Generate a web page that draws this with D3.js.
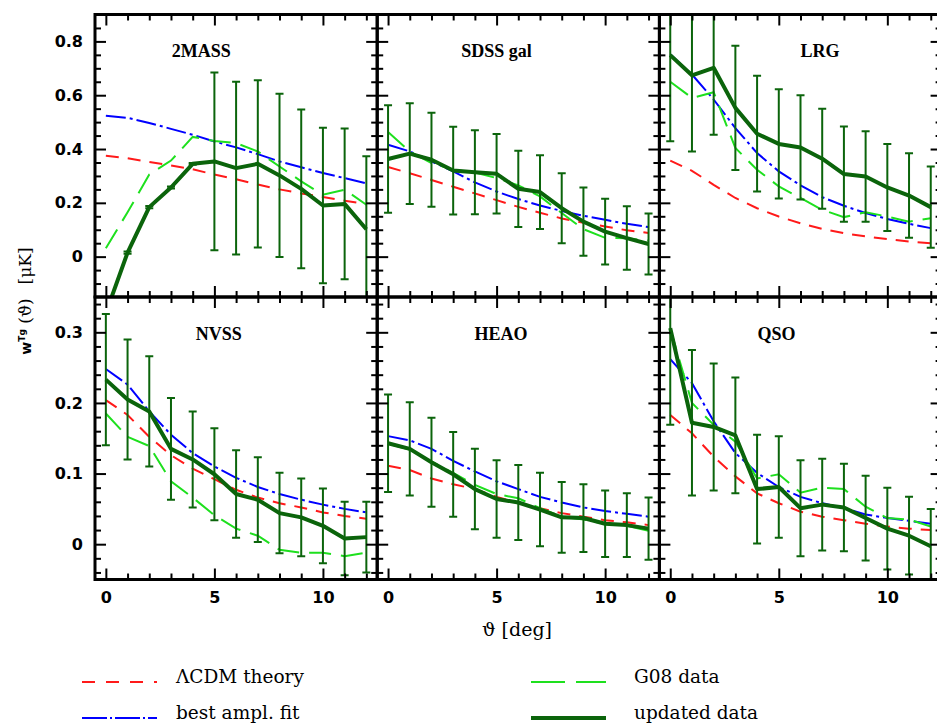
<!DOCTYPE html>
<html><head><meta charset="utf-8">
<script src="https://cdn.jsdelivr.net/npm/d3@7"></script>
<style>body{margin:0;background:#fff} svg{display:block}</style>
</head><body><svg id="c" width="937" height="724"></svg>
<script>
// ---------- data ----------
const theta = [0,1,2,3,4,5,6,7,8,9,10,11,12];
const panelNames = ["2MASS","SDSS gal","LRG","NVSS","HEAO","QSO"];
const labelTheta = [4.4, 5.0, 6.9, 5.2, 5.2, 4.9];

const lcdmTheory = [
  [0.375,0.366,0.352,0.339,0.325,0.305,0.288,0.268,0.250,0.235,0.222,0.208,0.195],
  [0.333,0.310,0.285,0.260,0.235,0.210,0.185,0.163,0.142,0.126,0.112,0.098,0.088],
  [0.357,0.319,0.267,0.218,0.180,0.149,0.124,0.103,0.087,0.075,0.065,0.056,0.050],
  [0.204,0.183,0.152,0.126,0.107,0.092,0.077,0.066,0.058,0.052,0.045,0.040,0.036],
  [0.111,0.105,0.093,0.085,0.078,0.067,0.059,0.051,0.044,0.039,0.034,0.031,0.027],
  [0.183,0.157,0.124,0.096,0.072,0.058,0.046,0.039,0.034,0.029,0.025,0.022,0.020]
];
const bestFit = [
  [0.524,0.516,0.497,0.475,0.453,0.428,0.406,0.381,0.354,0.332,0.311,0.292,0.272],
  [0.416,0.391,0.354,0.317,0.276,0.242,0.214,0.190,0.170,0.152,0.137,0.122,0.110],
  [0.752,0.677,0.584,0.478,0.385,0.317,0.265,0.221,0.189,0.162,0.140,0.122,0.106],
  [0.248,0.226,0.188,0.155,0.129,0.110,0.094,0.081,0.071,0.063,0.056,0.050,0.045],
  [0.153,0.147,0.135,0.118,0.103,0.089,0.078,0.067,0.059,0.052,0.047,0.043,0.039],
  [0.262,0.228,0.174,0.129,0.101,0.081,0.067,0.058,0.051,0.042,0.037,0.033,0.029]
];
const g08Data = [
  [0.031,0.165,0.305,0.357,0.445,0.430,0.422,0.391,0.335,0.280,0.230,0.249,0.193],
  [0.463,0.391,0.348,0.323,0.313,0.292,0.265,0.224,0.162,0.102,0.070,0.068,0.060],
  [0.650,0.590,0.611,0.404,0.323,0.261,0.218,0.174,0.147,0.165,0.149,0.130,0.143],
  [0.185,0.152,0.139,0.089,0.066,0.041,0.022,0.012,-0.008,-0.012,-0.012,-0.017,-0.012],
  [0.142,0.134,0.117,0.101,0.084,0.071,0.065,0.051,0.039,0.035,0.029,0.026,0.019],
  [0.305,0.200,0.169,0.145,0.093,0.099,0.073,0.080,0.078,0.053,0.037,0.035,0.025]
];
const updatedData = [
  [-0.21,0.015,0.184,0.257,0.345,0.354,0.329,0.345,0.302,0.252,0.190,0.196,0.102],
  [0.363,0.383,0.360,0.320,0.314,0.308,0.252,0.240,0.180,0.130,0.093,0.069,0.047],
  [0.749,0.674,0.702,0.553,0.457,0.419,0.406,0.364,0.307,0.298,0.257,0.227,0.184],
  [0.233,0.205,0.188,0.135,0.120,0.099,0.071,0.063,0.044,0.038,0.026,0.008,0.010],
  [0.143,0.135,0.116,0.099,0.078,0.064,0.059,0.049,0.038,0.037,0.029,0.027,0.022],
  [0.306,0.172,0.166,0.154,0.078,0.081,0.051,0.056,0.052,0.037,0.022,0.012,-0.003]
];
const updatedErr = [
  [0.004,0.004,0.004,0.004,0.003,0.330,0.321,0.311,0.303,0.295,0.289,0.280,0.271],
  [0.200,0.187,0.175,0.163,0.156,0.148,0.142,0.137,0.130,0.127,0.122,0.118,0.113],
  [0.320,0.283,0.249,0.231,0.215,0.203,0.194,0.186,0.177,0.168,0.162,0.157,0.151],
  [0.093,0.085,0.078,0.072,0.068,0.065,0.062,0.060,0.057,0.055,0.053,0.052,0.050],
  [0.069,0.066,0.063,0.060,0.057,0.055,0.053,0.052,0.050,0.048,0.047,0.045,0.044],
  [0.137,0.103,0.090,0.082,0.077,0.072,0.068,0.065,0.062,0.060,0.058,0.055,0.053]
];
const xMajorTicks = [0,5,10];
const xMinorTicks = [1,2,3,4,6,7,8,9,11,12];
const yDomains = [[-0.15,0.9],[-0.05,0.35]];
const yMajorTicks = [[0,0.2,0.4,0.6,0.8],[0,0.1,0.2,0.3]];
const yMinorTicks = [
  [-0.1,-0.05,0.05,0.1,0.15,0.25,0.3,0.35,0.45,0.5,0.55,0.65,0.7,0.75,0.85],
  [-0.04,-0.02,0.02,0.04,0.06,0.08,0.12,0.14,0.16,0.18,0.22,0.24,0.26,0.28,0.32,0.34]
];
const legendLabels = ["\u039BCDM theory","best ampl. fit","G08 data","updated data"];

// ---------- styles ----------
const C_RED = "#ff1a1a", C_BLUE = "#0000ff", C_LG = "#1ee01e", C_DG = "#0b640b";
const svg = d3.select("#c");
const plotLeft = 95, plotTop = 14.5, pw = 282.2, ph = 282.5;
const MAJ = 11, MIN = 6;

const defs = svg.append("defs");

panelNames.forEach((name, i) => {
  const col = i % 3, row = Math.floor(i / 3);
  const x0 = plotLeft + col * pw, y0 = plotTop + row * ph;
  const x = d3.scaleLinear().domain([-0.5, 12.5]).range([x0, x0 + pw]);
  const y = d3.scaleLinear().domain(yDomains[row]).range([y0 + ph, y0]);

  defs.append("clipPath").attr("id", "clip" + i)
    .append("rect").attr("x", x0).attr("y", y0).attr("width", pw).attr("height", ph);

  const g = svg.append("g").attr("clip-path", "url(#clip" + i + ")");
  const line = d3.line().x((d, k) => x(theta[k])).y(d => y(d));

  g.append("path").attr("d", line(lcdmTheory[i])).attr("fill", "none")
    .attr("stroke", C_RED).attr("stroke-width", 2).attr("stroke-dasharray", "13,9");
  g.append("path").attr("d", line(bestFit[i])).attr("fill", "none")
    .attr("stroke", C_BLUE).attr("stroke-width", 2).attr("stroke-dasharray", "20,4,3,4");
  g.append("path").attr("d", line(g08Data[i])).attr("fill", "none")
    .attr("stroke", C_LG).attr("stroke-width", 2).attr("stroke-dasharray", "22,10");

  const eb = g.append("g").attr("stroke", C_DG).attr("stroke-width", 2);
  theta.forEach((t, k) => {
    const v = updatedData[i][k], e = updatedErr[i][k];
    const xp = x(t);
    eb.append("line").attr("x1", xp).attr("x2", xp).attr("y1", y(v - e)).attr("y2", y(v + e));
    eb.append("line").attr("x1", xp - 4).attr("x2", xp + 4).attr("y1", y(v - e)).attr("y2", y(v - e));
    eb.append("line").attr("x1", xp - 4).attr("x2", xp + 4).attr("y1", y(v + e)).attr("y2", y(v + e));
  });
  g.append("path").attr("d", line(updatedData[i])).attr("fill", "none")
    .attr("stroke", C_DG).attr("stroke-width", 4).attr("stroke-linejoin", "round");

  // ticks (inward on all four sides)
  const tk = svg.append("g");
  function ax(fn, scale, vals, len, tr) {
    const a = tk.append("g").attr("transform", tr)
      .call(fn(scale).tickValues(vals).tickSize(-len).tickFormat(""));
    a.select(".domain").remove();
    a.selectAll("line").attr("stroke", "#000").attr("stroke-width", 2);
  }
  ax(d3.axisBottom, x, xMajorTicks, MAJ, `translate(0,${y0 + ph})`);
  ax(d3.axisBottom, x, xMinorTicks, MIN, `translate(0,${y0 + ph})`);
  ax(d3.axisTop, x, xMajorTicks, MAJ, `translate(0,${y0})`);
  ax(d3.axisTop, x, xMinorTicks, MIN, `translate(0,${y0})`);
  ax(d3.axisLeft, y, yMajorTicks[row], MAJ, `translate(${x0},0)`);
  ax(d3.axisLeft, y, yMinorTicks[row], MIN, `translate(${x0},0)`);
  ax(d3.axisRight, y, yMajorTicks[row], MAJ, `translate(${x0 + pw},0)`);
  ax(d3.axisRight, y, yMinorTicks[row], MIN, `translate(${x0 + pw},0)`);

  // frame
  svg.append("rect").attr("x", x0).attr("y", y0).attr("width", pw).attr("height", ph)
    .attr("fill", "none").attr("stroke", "#000").attr("stroke-width", 3);

  // tick labels
  if (col === 0) {
    const a = svg.append("g").attr("transform", `translate(${x0},0)`)
      .call(d3.axisLeft(y).tickValues(yMajorTicks[row]).tickSize(0).tickPadding(12)
        .tickFormat(d => d === 0 ? "0" : d3.format(".1f")(d)));
    a.select(".domain").remove();
    a.selectAll("text").attr("font-family", "DejaVu Sans").attr("font-weight", "bold")
      .attr("font-size", 16).attr("fill", "#000");
  }
  if (row === 1) {
    const a = svg.append("g").attr("transform", `translate(0,${y0 + ph})`)
      .call(d3.axisBottom(x).tickValues(xMajorTicks).tickSize(0).tickPadding(12).tickFormat(d3.format("d")));
    a.select(".domain").remove();
    a.selectAll("text").attr("font-family", "DejaVu Sans").attr("font-weight", "bold")
      .attr("font-size", 16).attr("fill", "#000");
  }

  // panel name
  svg.append("text").attr("x", x(labelTheta[i])).attr("y", y0 + 42.5)
    .attr("text-anchor", "middle").attr("font-family", "Liberation Serif")
    .attr("font-weight", "bold").attr("font-size", 18).text(name);
});

// axis titles
svg.append("text").attr("x", 517).attr("y", 636).attr("text-anchor", "middle")
  .attr("font-family", "DejaVu Serif").attr("font-size", 19).text("\u03D1 [deg]");

const yt = svg.append("text").attr("transform", "translate(31,301) rotate(-90)")
  .attr("text-anchor", "middle").attr("font-family", "DejaVu Serif").attr("font-size", 17);
yt.append("tspan").attr("font-family", "DejaVu Sans").attr("font-weight", "bold").attr("font-size", 14).text("w");
yt.append("tspan").attr("font-family", "DejaVu Sans").attr("font-weight", "bold").attr("font-size", 9).attr("dy", -6).text("Tg");
yt.append("tspan").attr("dy", 6).text(" (\u03D1)\u2002 [\u03BCK]");

// legend
const legendX = [82, 82, 531, 531];
const legendY = [682, 718, 682, 718];
const legendStyles = [
  {c: C_RED, w: 2, d: "13,11"},
  {c: C_BLUE, w: 2, d: "25,3,2,3"},
  {c: C_LG, w: 2, d: "34,11"},
  {c: C_DG, w: 4, d: null}
];
legendLabels.forEach((lab, k) => {
  const s = legendStyles[k];
  const ln = svg.append("line").attr("x1", legendX[k]).attr("x2", legendX[k] + 75)
    .attr("y1", legendY[k]).attr("y2", legendY[k])
    .attr("stroke", s.c).attr("stroke-width", s.w);
  if (s.d) ln.attr("stroke-dasharray", s.d);
  svg.append("text").attr("x", legendX[k] + (k < 2 ? 94 : 103)).attr("y", legendY[k] + 1)
    .attr("font-family", "DejaVu Serif").attr("font-size", 18.5).text(lab);
});
</script></body></html>
